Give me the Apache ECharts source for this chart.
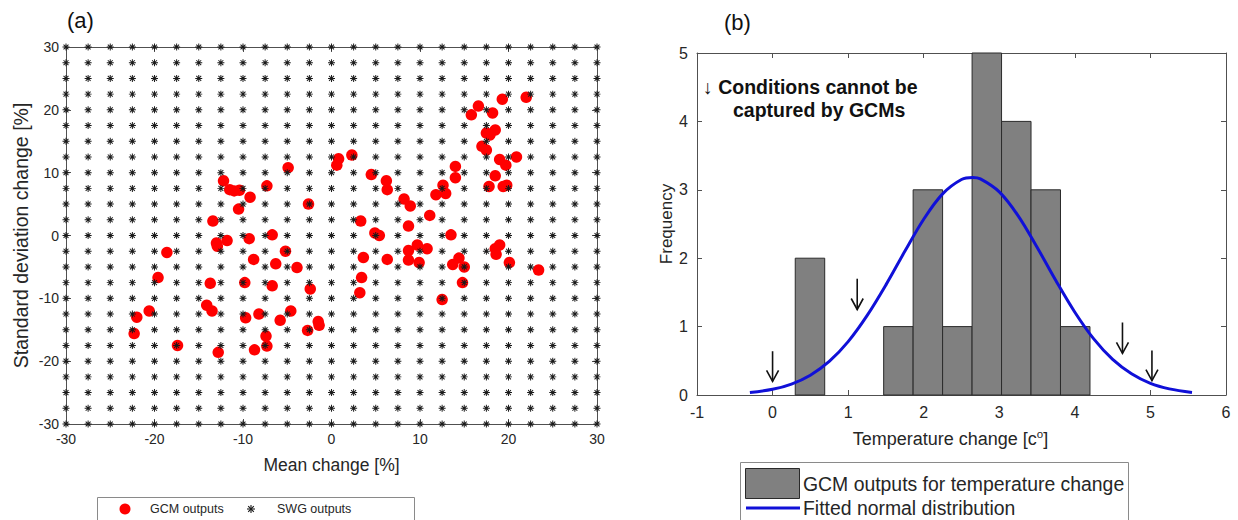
<!DOCTYPE html>
<html><head><meta charset="utf-8">
<script src="https://cdn.jsdelivr.net/npm/echarts@6/dist/echarts.min.js"></script>
<style>html,body{margin:0;padding:0;background:#fff}#c{width:1238px;height:520px}</style>
</head><body><div id="c"></div>
<script>
// ---------- Panel (a) data ----------
const gridValues = [-30,-27.5,-25,-22.5,-20,-17.5,-15,-12.5,-10,-7.5,-5,-2.5,0,2.5,5,7.5,10,12.5,15,17.5,20,22.5,25,27.5,30];
const gcmMean = [-12.2,-11.5,-11.0,-10.4,-9.2,-10.5,-13.4,-7.3,-4.9,-2.6,0.8,0.6,
  2.3,4.5,6.2,6.3,8.2,8.9,3.3,8.7,11.1,11.8,12.6,12.9,14.0,14.0,15.8,16.6,18.2,19.3,22.0,17.5,18.5,17.9,17.0,17.5,19.0,19.7,20.9,18.5,17.8,19.4,19.8,
  -13.0,-12.9,-11.8,-9.3,-6.7,-18.6,-5.2,-8.8,-6.3,-3.9,-19.6,-13.7,-9.8,-6.7,-2.4,-14.1,-13.5,-20.6,-22.0,-22.3,-17.4,-12.8,-9.7,-8.2,-5.8,-4.6,-7.4,-7.3,-8.7,-2.7,-1.5,-1.4,
  4.9,5.4,13.5,9.7,10.8,8.7,8.7,9.9,3.6,6.3,3.4,3.2,13.7,14.4,15.0,14.8,12.5,18.5,19.0,18.6,20.1,23.4];
const gcmStd = [8.7,7.3,7.1,7.2,6.1,4.2,2.3,7.9,10.8,5.0,12.2,11.2,
  12.8,9.7,8.7,7.3,5.8,4.7,2.3,1.5,3.2,6.5,8.0,6.7,11.0,9.2,19.2,20.6,19.5,21.7,22.0,16.3,16.8,16.0,14.2,13.6,12.1,11.2,12.5,9.5,7.8,7.8,8.0,
  -1.2,-1.7,-0.8,-0.5,0.1,-2.7,-2.5,-3.8,-4.5,-5.1,-6.7,-7.6,-7.5,-8.0,-8.5,-11.1,-12.0,-12.0,-13.0,-15.6,-17.5,-18.6,-13.1,-12.5,-13.5,-12.0,-16.0,-17.6,-18.2,-15.1,-13.7,-14.3,
  0.4,0.0,0.1,-1.5,-2.1,-2.4,-3.9,-4.3,-3.5,-3.8,-6.7,-9.1,-4.6,-3.6,-5.0,-7.5,-10.2,-2.1,-1.5,-3.0,-4.3,-5.5];

// ---------- Panel (b) data ----------
const binEdges = [0.30,0.69,1.08,1.47,1.86,2.25,2.64,3.03,3.42,3.81,4.20];
const binCounts = [2,0,0,1,3,1,5,4,3,1];
const curveX = [-0.3,0,0.25,0.5,0.75,1.0,1.25,1.5,1.75,2.0,2.25,2.5,2.65,2.75,3.0,3.25,3.5,3.75,4.0,4.25,4.5,4.75,5.0,5.25,5.55];
const curveY = [0.035,0.083,0.16,0.29,0.49,0.78,1.16,1.61,2.10,2.57,2.94,3.15,3.18,3.16,2.97,2.62,2.16,1.67,1.21,0.82,0.52,0.31,0.17,0.09,0.038];
const arrowX = [0, 1.12, 4.63, 5.02];
const arrowTop = [0.64, 1.70, 1.06, 0.65];
const arrowTip = [0.20, 1.25, 0.61, 0.21];

// ---------- build ----------
const swgData = [];
gridValues.forEach(x => gridValues.forEach(y => swgData.push([x, y])));
const gcmData = gcmMean.map((m, i) => [m, gcmStd[i]]);
const histData = binCounts.map((c, i) => [binEdges[i], binEdges[i + 1], c]);
const curveData = curveX.map((x, i) => [x, curveY[i]]);
const arrowData = arrowX.map((x, i) => [x, arrowTop[i], arrowTip[i]]);

const FONT = '"Liberation Sans", Arial, sans-serif';
const TXT = '#262626';
const AX = '#505050';
const STAR = 'path://M4.3,0 h1.4 v10 h-1.4 Z M0,4.3 h10 v1.4 h-10 Z M1.0,2.0 L2.0,1.0 L9.0,8.0 L8.0,9.0 Z M8.0,1.0 L9.0,2.0 L2.0,9.0 L1.0,8.0 Z';

function starLines(cx, cy, r) {
  const d = r * 0.7071;
  const st = {stroke:'#1a1a1a', lineWidth:1.1};
  return {type:'group', children:[
    {type:'line', shape:{x1:cx - r, y1:cy, x2:cx + r, y2:cy}, style:st},
    {type:'line', shape:{x1:cx, y1:cy - r, x2:cx, y2:cy + r}, style:st},
    {type:'line', shape:{x1:cx - d, y1:cy - d, x2:cx + d, y2:cy + d}, style:st},
    {type:'line', shape:{x1:cx - d, y1:cy + d, x2:cx + d, y2:cy - d}, style:st}
  ]};
}

function mkAxis(base, extra) { return Object.assign({}, base, extra); }
const axA = {type:'value', min:-30, max:30, interval:10, splitLine:{show:false},
  axisLine:{show:true, onZero:false, lineStyle:{color:AX, width:1}},
  axisTick:{show:true, inside:true, length:5, lineStyle:{color:AX}},
  axisLabel:{color:TXT, fontFamily:FONT, fontSize:14}};
const axBx = {type:'value', min:-1, max:6, interval:1, splitLine:{show:false},
  axisLine:{show:true, onZero:false, lineStyle:{color:AX, width:1}},
  axisTick:{show:true, inside:true, length:5, lineStyle:{color:AX}},
  axisLabel:{color:TXT, fontFamily:FONT, fontSize:16, margin:9}};
const axBy = {type:'value', min:0, max:5, interval:1, splitLine:{show:false},
  axisLine:{show:true, onZero:false, lineStyle:{color:AX, width:1}},
  axisTick:{show:true, inside:true, length:5, lineStyle:{color:AX}},
  axisLabel:{color:TXT, fontFamily:FONT, fontSize:16, margin:9}};

const chart = echarts.init(document.getElementById('c'), null, {renderer:'svg'});
chart.setOption({
  animation:false,
  backgroundColor:'#fff',
  grid:[
    {left:66, top:47, width:531, height:377},
    {left:697, top:53, width:529, height:342}
  ],
  xAxis:[
    mkAxis(axA, {gridIndex:0, position:'bottom', name:'Mean change [%]', nameLocation:'middle', nameGap:32,
      nameTextStyle:{color:TXT, fontFamily:FONT, fontSize:17.5}, axisLabel:Object.assign({}, axA.axisLabel, {margin:8})}),
    mkAxis(axA, {gridIndex:0, position:'top', axisLabel:{show:false}}),
    mkAxis(axBx, {gridIndex:1, position:'bottom', name:'Temperature change [c{sup|o}]', nameLocation:'middle', nameGap:33,
      nameTextStyle:{color:TXT, fontFamily:FONT, fontSize:18, padding:[0,22,0,0], rich:{sup:{fontSize:11.5, verticalAlign:'top', padding:[0,0,10,0], fontFamily:FONT, color:TXT}}}}),
    mkAxis(axBx, {gridIndex:1, position:'top', axisLabel:{show:false}})
  ],
  yAxis:[
    mkAxis(axA, {gridIndex:0, position:'left', name:'Standard deviation change [%]', nameLocation:'middle', nameGap:35,
      nameTextStyle:{color:TXT, fontFamily:FONT, fontSize:19.5}, axisLabel:Object.assign({}, axA.axisLabel, {margin:7})}),
    mkAxis(axA, {gridIndex:0, position:'right', axisLabel:{show:false}}),
    mkAxis(axBy, {gridIndex:1, position:'left', name:'Frequency', nameLocation:'middle', nameGap:22,
      nameTextStyle:{color:TXT, fontFamily:FONT, fontSize:17}}),
    mkAxis(axBy, {gridIndex:1, position:'right', axisLabel:{show:false}})
  ],
  series:[
    {name:'GCM outputs', type:'scatter', xAxisIndex:0, yAxisIndex:0, data:gcmData,
      symbol:'circle', symbolSize:11.5, itemStyle:{color:'#ff0000', opacity:1}, z:2},
    {name:'SWG outputs', type:'scatter', xAxisIndex:0, yAxisIndex:0, data:swgData,
      symbol:STAR, symbolSize:7, itemStyle:{color:'#1a1a1a', opacity:1}, z:3},
    {name:'GCM outputs for temperature change', type:'custom', xAxisIndex:2, yAxisIndex:2, data:histData,
      encode:{x:[0,1], y:2}, z:2,
      renderItem:function(params, api){
        if (api.value(2) <= 0) return null;
        const p0 = api.coord([api.value(0), api.value(2)]);
        const p1 = api.coord([api.value(1), 0]);
        return {type:'rect', shape:{x:p0[0], y:p0[1], width:p1[0]-p0[0], height:p1[1]-p0[1]},
          style:{fill:'#808080', stroke:'#2a2a2a', lineWidth:1}};
      }},
    {name:'Fitted normal distribution', type:'line', xAxisIndex:2, yAxisIndex:2, data:curveData,
      smooth:0.35, showSymbol:false, symbol:'none', lineStyle:{color:'#1010d8', width:3}, z:4},
    {name:'arrows', type:'custom', xAxisIndex:2, yAxisIndex:2, data:arrowData, encode:{x:0, y:[1,2]}, z:5,
      renderItem:function(params, api){
        const t = api.coord([api.value(0), api.value(1)]);
        const b = api.coord([api.value(0), api.value(2)]);
        return {type:'group', children:[
          {type:'line', shape:{x1:t[0], y1:t[1], x2:b[0], y2:b[1]}, style:{stroke:'#111', lineWidth:1.6}},
          {type:'polyline', shape:{points:[[b[0]-6, b[1]-11],[b[0], b[1]],[b[0]+6, b[1]-11]]}, style:{stroke:'#111', lineWidth:1.6, fill:null}}
        ]};
      }}
  ],
  graphic:[
    {type:'text', x:67, y:9, style:{text:'(a)', font:'22px ' + FONT, fill:'#111'}},
    {type:'text', x:724, y:11, style:{text:'(b)', font:'22px ' + FONT, fill:'#111'}},
    {type:'text', x:703, y:77, style:{text:'\u2193 Conditions cannot be', font:'bold 19.5px ' + FONT, fill:'#111'}},
    {type:'text', x:733, y:100, style:{text:'captured by GCMs', font:'bold 19.5px ' + FONT, fill:'#111'}},
    // legend (a)
    {type:'rect', shape:{x:97.5, y:497.5, width:317, height:40}, style:{fill:'#fff', stroke:'#8a8a8a', lineWidth:1}},
    {type:'circle', shape:{cx:125, cy:509, r:5.5}, style:{fill:'#ff0000'}},
    {type:'text', x:150, y:509, style:{text:'GCM outputs', font:'12.5px ' + FONT, fill:TXT, verticalAlign:'middle'}},
    starLines(251, 509, 4),
    {type:'text', x:277, y:509, style:{text:'SWG outputs', font:'12.5px ' + FONT, fill:TXT, verticalAlign:'middle'}},
    // legend (b)
    {type:'rect', shape:{x:740.5, y:462.5, width:388, height:70}, style:{fill:'#fff', stroke:'#8a8a8a', lineWidth:1}},
    {type:'rect', shape:{x:745.5, y:468.5, width:54, height:30}, style:{fill:'#808080', stroke:'#2a2a2a', lineWidth:1}},
    {type:'text', x:803, y:484, style:{text:'GCM outputs for temperature change', font:'19.4px ' + FONT, fill:TXT, verticalAlign:'middle'}},
    {type:'line', shape:{x1:746, y1:508, x2:800, y2:508}, style:{stroke:'#1010d8', lineWidth:3}},
    {type:'text', x:803, y:508, style:{text:'Fitted normal distribution', font:'19.4px ' + FONT, fill:TXT, verticalAlign:'middle'}}
  ]
});
</script>
</body></html>
